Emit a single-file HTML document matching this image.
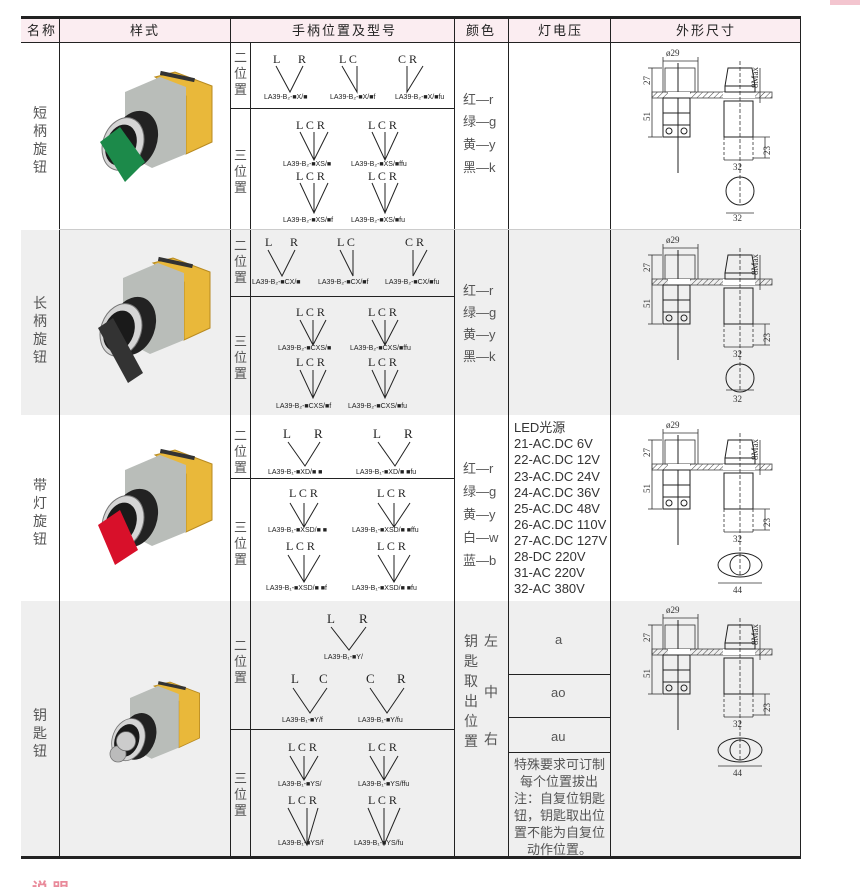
<!DOCTYPE html>
<html><head><meta charset="utf-8"><style>
html,body{margin:0;padding:0;background:#fff;width:860px;height:887px;overflow:hidden}
svg{display:block}
.cn{font-family:"Liberation Sans","Noto Sans CJK SC",sans-serif}
.hd{font-size:13px;fill:#222;letter-spacing:2px}
.nm{font-size:14px;fill:#555}
.lt{font-family:"Liberation Serif",serif;font-size:12px;fill:#222}
.lb{font-family:"Liberation Sans",sans-serif;font-size:7px;fill:#222}
.cl{font-size:13px;fill:#555}
.v{font-family:"Liberation Sans","Noto Sans CJK SC",sans-serif;font-size:13px;fill:#333}
.dm{font-family:"Liberation Serif",serif;font-size:9px;fill:#333}
.ln{stroke:#222;stroke-width:1;fill:none}
.dl{stroke:#333;stroke-width:0.8;fill:none}
</style></head><body>
<svg width="860" height="887" viewBox="0 0 860 887" xmlns="http://www.w3.org/2000/svg">
<defs>
<pattern id="hat" width="4" height="4" patternUnits="userSpaceOnUse" patternTransform="rotate(45)"><line x1="0" y1="0" x2="0" y2="4" stroke="#444" stroke-width="1"/></pattern>
<g id="draw">
 <text class="dm" x="56" y="13">ø29</text>
 <line class="dl" x1="53" y1="18" x2="88" y2="18"/>
 <line class="dl" x1="53" y1="14" x2="53" y2="49"/><line class="dl" x1="88" y1="14" x2="88" y2="49"/>
 <rect class="dl" x="55" y="25" width="30" height="24"/>
 <line class="ln" x1="68" y1="20" x2="68" y2="130"/>
 <rect x="42" y="49" width="120" height="6" fill="url(#hat)" stroke="#444" stroke-width="0.8"/>
 <rect x="58" y="49" width="22" height="6" fill="#fff"/>
 <rect x="113" y="49" width="32" height="6" fill="#fff"/>
 <rect class="ln" x="53" y="55" width="27" height="39"/>
 <line class="ln" x1="53" y1="70" x2="80" y2="70"/><line class="ln" x1="53" y1="82" x2="80" y2="82"/>
 <circle class="ln" cx="59" cy="88" r="3"/><circle class="ln" cx="74" cy="88" r="3"/>
 <line class="dl" x1="38" y1="25" x2="52" y2="25"/><line class="dl" x1="38" y1="94" x2="52" y2="94"/>
 <line class="dl" x1="42" y1="25" x2="42" y2="94"/>
 <text class="dm" transform="translate(40,42) rotate(-90)">27</text>
 <text class="dm" transform="translate(40,78) rotate(-90)">51</text>
 <line class="dl" x1="150" y1="25" x2="150" y2="60"/>
 <text class="dm" transform="translate(148,45) rotate(-90)">8Max</text>
 <polygon class="ln" points="118,25 142,25 145,43 115,43"/>
 <rect class="ln" x="115" y="43" width="30" height="6"/>
 <rect class="ln" x="114" y="58" width="29" height="36"/>
 <line class="dl" x1="130" y1="18" x2="130" y2="160" stroke-dasharray="4,2"/>
 <line class="dl" x1="114" y1="94" x2="114" y2="118" stroke-dasharray="3,2"/>
 <line class="dl" x1="143" y1="94" x2="143" y2="118" stroke-dasharray="3,2"/>
 <line class="dl" x1="114" y1="117" x2="143" y2="117"/>
 <text class="dm" x="123" y="127">32</text>
 <line class="dl" x1="143" y1="94" x2="160" y2="94"/><line class="dl" x1="143" y1="115" x2="160" y2="115"/>
 <line class="dl" x1="155" y1="94" x2="155" y2="115"/>
 <text class="dm" transform="translate(160,112) rotate(-90)">23</text>
</g>
<g id="photo">
 <polygon points="5,-55 25,-60 62,-46 62,10 36,22 36,-36" fill="#e9b83a" stroke="#b88a20" stroke-width="1"/>
 <rect x="10" y="-58" width="35" height="4" fill="#333" transform="rotate(12 25 -56)"/>
 <polygon points="-25,-40 10,-55 36,-45 36,22 2,36 -25,22" fill="#b9bdb9"/>
 <ellipse cx="-15" cy="8" rx="22" ry="30" fill="#222" transform="rotate(20 -15 8)"/>
 <ellipse cx="-27" cy="12" rx="20" ry="27" fill="#d5d5d5" stroke="#777" transform="rotate(20 -27 12)"/>
 <ellipse cx="-29" cy="13" rx="15" ry="21" fill="#1a1a1a" transform="rotate(20 -29 13)"/>
</g>
</defs>

<!-- pink corner -->
<rect x="830" y="0" width="30" height="5" fill="#f3c5cf"/>

<!-- header -->
<rect x="21" y="18" width="780" height="24" fill="#fbedf1"/>
<rect x="21" y="16" width="780" height="3" fill="#222"/>
<line x1="21" y1="42.5" x2="801" y2="42.5" stroke="#222"/>
<!-- row backgrounds -->
<rect x="21" y="230" width="780" height="185" fill="#efefef"/>
<rect x="21" y="601" width="780" height="255" fill="#efefef"/>
<rect x="21" y="856" width="780" height="3" fill="#222"/>

<!-- header text -->
<g class="cn hd">
<text x="27" y="35">名称</text>
<text x="130" y="35">样式</text>
<text x="292" y="35">手柄位置及型号</text>
<text x="466" y="35">颜色</text>
<text x="538" y="35">灯电压</text>
<text x="676" y="35">外形尺寸</text>
</g>

<!-- vertical lines -->
<g stroke="#222" stroke-width="1">
<line x1="59.5" y1="19" x2="59.5" y2="856"/>
<line x1="230.5" y1="19" x2="230.5" y2="856"/>
<line x1="250.5" y1="43" x2="250.5" y2="856"/>
<line x1="454.5" y1="19" x2="454.5" y2="856"/>
<line x1="508.5" y1="19" x2="508.5" y2="856"/>
<line x1="610.5" y1="19" x2="610.5" y2="856"/>
<line x1="800.5" y1="19" x2="800.5" y2="856"/>
<!-- sub horizontal lines -->
<line x1="230" y1="108.5" x2="454" y2="108.5"/>
<line x1="230" y1="296.5" x2="454" y2="296.5"/>
<line x1="230" y1="478.5" x2="454" y2="478.5"/>
<line x1="230" y1="729.5" x2="454" y2="729.5"/>
<line x1="508" y1="674.5" x2="610" y2="674.5"/>
<line x1="508" y1="717.5" x2="610" y2="717.5"/>
<line x1="508" y1="752.5" x2="610" y2="752.5"/>
<line x1="59" y1="229.5" x2="801" y2="229.5" stroke="#ccc"/>
</g>

<!-- names -->
<g class="cn nm">
<text x="33" y="118">短</text><text x="33" y="136">柄</text><text x="33" y="154">旋</text><text x="33" y="172">钮</text>
<text x="33" y="308">长</text><text x="33" y="326">柄</text><text x="33" y="344">旋</text><text x="33" y="362">钮</text>
<text x="33" y="490">带</text><text x="33" y="508">灯</text><text x="33" y="526">旋</text><text x="33" y="544">钮</text>
<text x="33" y="720">钥</text><text x="33" y="738">匙</text><text x="33" y="756">钮</text>
</g>
<!-- 位置 labels -->
<g class="cn nm" style="font-size:13px">
<text x="234" y="62">二</text><text x="234" y="78">位</text><text x="234" y="94">置</text>
<text x="234" y="160">三</text><text x="234" y="176">位</text><text x="234" y="192">置</text>
<text x="234" y="250">二</text><text x="234" y="266">位</text><text x="234" y="282">置</text>
<text x="234" y="346">三</text><text x="234" y="362">位</text><text x="234" y="378">置</text>
<text x="234" y="440">二</text><text x="234" y="456">位</text><text x="234" y="472">置</text>
<text x="234" y="532">三</text><text x="234" y="548">位</text><text x="234" y="564">置</text>
<text x="234" y="650">二</text><text x="234" y="666">位</text><text x="234" y="682">置</text>
<text x="234" y="783">三</text><text x="234" y="799">位</text><text x="234" y="815">置</text>
</g>

<!-- photos -->
<g transform="translate(150,132)"><use href="#photo"/><polygon points="-50,10 -30,-5 -5,30 -25,50" fill="#1c8a4a"/></g>
<g transform="translate(148,318)"><use href="#photo"/><polygon points="-50,10 -35,0 -5,55 -20,65" fill="#333"/></g>
<g transform="translate(150,510)"><use href="#photo"/><polygon points="-52,15 -30,0 -12,40 -35,55" fill="#d8102a"/></g>
<g transform="translate(150,730) scale(0.8)"><use href="#photo"/><circle cx="-40" cy="30" r="10" fill="#bbb" stroke="#777"/><circle cx="-30" cy="14" r="12" fill="#ccc" stroke="#666"/></g>

<!-- ROW1 diagrams -->
<g class="ln">
<path d="M276,66 L290,92 L303,66"/><path d="M342,66 L357,92 L357,66"/><path d="M407,66 L407,92 L423,66"/>
<path d="M300,132 L314,160 L328,132 M314,132 L314,160"/><path d="M372,132 L385,160 L398,132 M385,132 L385,160"/>
<path d="M300,183 L314,213 L328,183 M314,183 L314,213"/><path d="M372,183 L385,213 L398,183 M385,183 L385,213"/>
</g>
<g class="lt">
<text x="273" y="63">L</text><text x="298" y="63">R</text>
<text x="339" y="63">L C</text><text x="398" y="63">C R</text>
<text x="296" y="129">L C R</text><text x="368" y="129">L C R</text>
<text x="296" y="180">L C R</text><text x="368" y="180">L C R</text>
</g>
<g class="lb">
<text x="264" y="99">LA39-B₂-■X/■</text><text x="330" y="99">LA39-B₂-■X/■f</text><text x="395" y="99">LA39-B₂-■X/■fu</text>
<text x="283" y="166">LA39-B₂-■XS/■</text><text x="351" y="166">LA39-B₂-■XS/■ffu</text>
<text x="283" y="222">LA39-B₂-■XS/■f</text><text x="351" y="222">LA39-B₂-■XS/■fu</text>
</g>

<!-- ROW2 diagrams -->
<g class="ln">
<path d="M268,250 L282,276 L295,250"/><path d="M340,250 L353,276 L353,250"/><path d="M413,250 L413,276 L427,250"/>
<path d="M300,320 L313,345 L326,320 M313,320 L313,345"/><path d="M372,320 L385,345 L398,320 M385,320 L385,345"/>
<path d="M300,370 L313,398 L326,370 M313,370 L313,398"/><path d="M372,370 L385,398 L398,370 M385,370 L385,398"/>
</g>
<g class="lt">
<text x="265" y="246">L</text><text x="290" y="246">R</text>
<text x="337" y="246">L C</text><text x="405" y="246">C R</text>
<text x="296" y="316">L C R</text><text x="368" y="316">L C R</text>
<text x="296" y="366">L C R</text><text x="368" y="366">L C R</text>
</g>
<g class="lb">
<text x="252" y="284">LA39-B₂-■CX/■</text><text x="318" y="284">LA39-B₂-■CX/■f</text><text x="385" y="284">LA39-B₂-■CX/■fu</text>
<text x="278" y="350">LA39-B₂-■CXS/■</text><text x="350" y="350">LA39-B₂-■CXS/■ffu</text>
<text x="276" y="408">LA39-B₂-■CXS/■f</text><text x="348" y="408">LA39-B₂-■CXS/■fu</text>
</g>

<!-- ROW3 diagrams -->
<g class="ln">
<path d="M288,442 L305,466 L320,442"/><path d="M378,442 L395,466 L410,442"/>
<path d="M290,503 L304,527 L318,503 M304,503 L304,527"/><path d="M378,503 L394,527 L410,503 M394,503 L394,527"/>
<path d="M288,555 L304,582 L320,555 M304,555 L304,582"/><path d="M378,555 L394,582 L410,555 M394,555 L394,582"/>
</g>
<g class="lt" style="font-size:13px">
<text x="283" y="438">L</text><text x="314" y="438">R</text>
<text x="373" y="438">L</text><text x="404" y="438">R</text>
</g>
<g class="lt">
<text x="289" y="497">L C R</text><text x="377" y="497">L C R</text>
<text x="286" y="550">L C R</text><text x="377" y="550">L C R</text>
</g>
<g class="lb">
<text x="268" y="474">LA39-B₁-■XD/■ ■</text><text x="356" y="474">LA39-B₁-■XD/■ ■fu</text>
<text x="268" y="532">LA39-B₁-■XSD/■ ■</text><text x="352" y="532">LA39-B₁-■XSD/■ ■ffu</text>
<text x="266" y="590">LA39-B₁-■XSD/■ ■f</text><text x="352" y="590">LA39-B₁-■XSD/■ ■fu</text>
</g>

<!-- ROW4 diagrams -->
<g class="ln">
<path d="M331,627 L349,650 L366,627"/>
<path d="M293,688 L310,713 L327,688"/><path d="M370,688 L387,713 L404,688"/>
<path d="M290,756 L304,780 L318,756 M304,756 L304,780"/><path d="M370,756 L384,780 L398,756 M384,756 L384,780"/>
<path d="M288,808 L307,845 L318,808 M307,808 L307,845"/><path d="M368,808 L384,845 L400,808 M384,808 L384,845"/>
</g>
<g class="lt" style="font-size:13px">
<text x="327" y="623">L</text><text x="359" y="623">R</text>
<text x="291" y="683">L</text><text x="319" y="683">C</text>
<text x="366" y="683">C</text><text x="397" y="683">R</text>
</g>
<g class="lt">
<text x="288" y="751">L C R</text><text x="368" y="751">L C R</text>
<text x="288" y="804">L C R</text><text x="368" y="804">L C R</text>
</g>
<g class="lb">
<text x="324" y="659">LA39-B₁-■Y/</text>
<text x="282" y="722">LA39-B₁-■Y/f</text><text x="358" y="722">LA39-B₁-■Y/fu</text>
<text x="278" y="786">LA39-B₁-■YS/</text><text x="358" y="786">LA39-B₁-■YS/ffu</text>
<text x="278" y="845">LA39-B₁-■YS/f</text><text x="354" y="845">LA39-B₁-■YS/fu</text>
</g>

<!-- colors -->
<g class="cn cl">
<text x="463" y="104">红—r</text><text x="463" y="126">绿—g</text><text x="463" y="149">黄—y</text><text x="463" y="172">黑—k</text>
<text x="463" y="295">红—r</text><text x="463" y="317">绿—g</text><text x="463" y="339">黄—y</text><text x="463" y="361">黑—k</text>
<text x="463" y="473">红—r</text><text x="463" y="496">绿—g</text><text x="463" y="519">黄—y</text><text x="463" y="542">白—w</text><text x="463" y="565">蓝—b</text>
</g>
<g class="cn cl" style="font-size:14px">
<text x="464" y="646">钥</text><text x="464" y="666">匙</text><text x="464" y="686">取</text><text x="464" y="706">出</text><text x="464" y="726">位</text><text x="464" y="746">置</text>
<text x="484" y="646">左</text><text x="484" y="697">中</text><text x="484" y="744">右</text>
</g>

<!-- voltage -->
<g class="v">
<text x="514" y="432">LED光源</text>
<text x="514" y="448">21-AC.DC 6V</text>
<text x="514" y="464">22-AC.DC 12V</text>
<text x="514" y="481">23-AC.DC 24V</text>
<text x="514" y="497">24-AC.DC 36V</text>
<text x="514" y="513">25-AC.DC 48V</text>
<text x="514" y="529">26-AC.DC 110V</text>
<text x="514" y="545">27-AC.DC 127V</text>
<text x="514" y="561">28-DC 220V</text>
<text x="514" y="577">31-AC 220V</text>
<text x="514" y="593">32-AC 380V</text>
</g>
<g class="cn cl">
<text x="555" y="644">a</text>
<text x="551" y="697">ao</text>
<text x="551" y="741">au</text>
<text x="514" y="769">特殊要求可订制</text>
<text x="520" y="786">每个位置拔出</text>
<text x="514" y="803">注：自复位钥匙</text>
<text x="514" y="820">钮，钥匙取出位</text>
<text x="514" y="837">置不能为自复位</text>
<text x="527" y="854">动作位置。</text>
</g>

<!-- dimension drawings -->
<g transform="translate(610,43)"><use href="#draw"/><circle class="ln" cx="130" cy="148" r="14"/><line class="dl" x1="116" y1="170" x2="144" y2="170"/><text class="dm" x="123" y="178">32</text></g>
<g transform="translate(610,230)"><use href="#draw"/><circle class="ln" cx="130" cy="148" r="14"/><line class="dl" x1="116" y1="160" x2="144" y2="160"/><text class="dm" x="123" y="172">32</text></g>
<g transform="translate(610,415)"><use href="#draw"/><ellipse class="ln" cx="130" cy="150" rx="22" ry="12"/><circle class="ln" cx="130" cy="150" r="10"/><line class="dl" x1="108" y1="168" x2="152" y2="168"/><text class="dm" x="123" y="178">44</text></g>
<g transform="translate(610,600)"><use href="#draw"/><ellipse class="ln" cx="130" cy="150" rx="22" ry="12"/><circle class="ln" cx="130" cy="150" r="10"/><line class="dl" x1="108" y1="166" x2="152" y2="166"/><text class="dm" x="123" y="176">44</text></g>

<!-- bottom note -->
<text class="cn" x="32" y="894" style="font-size:16px;fill:#e98a9a;font-weight:bold">说 明</text>
</svg>
</body></html>
